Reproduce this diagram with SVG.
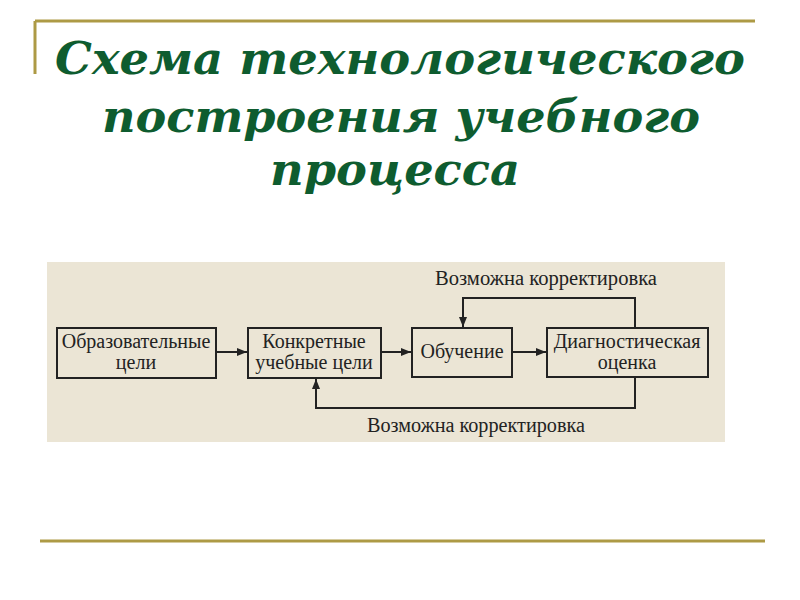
<svg xmlns="http://www.w3.org/2000/svg" width="800" height="600" viewBox="0 0 800 600">
<defs>
<marker id="ah" viewBox="0 0 10 8" refX="10" refY="4" markerWidth="10" markerHeight="8" markerUnits="userSpaceOnUse" orient="auto">
<path d="M0,0 L10,4 L0,8 Z" fill="#222"/>
</marker>
</defs>
<style>
.gold{stroke:#ad9a45;stroke-width:3;fill:none}
.title{font-family:"DejaVu Serif",serif;font-weight:bold;font-style:italic;font-size:45px;fill:#0e5c2f;text-anchor:middle}
.box{fill:none;stroke:#222;stroke-width:2}
.t{font-family:"Liberation Serif",serif;font-size:20px;fill:#222;text-anchor:middle}
.l{font-family:"Liberation Serif",serif;font-size:20px;fill:#222}
.c{fill:none;stroke:#222;stroke-width:2}
</style>
<rect width="800" height="600" fill="#ffffff"/>
<path class="gold" d="M35,21 H755 M35,21 V74"/>
<line class="gold" x1="40" y1="541" x2="765" y2="541"/>
<g id="title">
<text class="title" x="400" y="74" textLength="690" lengthAdjust="spacingAndGlyphs">Схема технологического</text>
<text class="title" x="401" y="132" textLength="598" lengthAdjust="spacingAndGlyphs">построения учебного</text>
<text class="title" x="395" y="185" textLength="250" lengthAdjust="spacingAndGlyphs">процесса</text>
</g>
<rect x="47" y="262" width="678" height="180" fill="#ebe5d5"/>
<g id="connectors">
<line class="c" x1="216" y1="352" x2="247" y2="352" marker-end="url(#ah)"/>
<line class="c" x1="381" y1="352" x2="411" y2="352" marker-end="url(#ah)"/>
<line class="c" x1="512" y1="352" x2="546" y2="352" marker-end="url(#ah)"/>
<polyline class="c" points="635,328 635,298 463,298 463,327" marker-end="url(#ah)"/>
<polyline class="c" points="635,377 635,408 316,408 316,379" marker-end="url(#ah)"/>
<text class="l" x="435" y="285" textLength="222" lengthAdjust="spacingAndGlyphs">Возможна корректировка</text>
<text class="l" x="367" y="432" textLength="218" lengthAdjust="spacingAndGlyphs">Возможна корректировка</text>
</g>
<g id="n1">
<rect class="box" x="57" y="328" width="159" height="50"/>
<text class="t" x="136" y="348">Образовательные</text>
<text class="t" x="136" y="369">цели</text>
</g>
<g id="n2">
<rect class="box" x="248" y="328" width="133" height="50"/>
<text class="t" x="314" y="348">Конкретные</text>
<text class="t" x="314" y="369">учебные цели</text>
</g>
<g id="n3">
<rect class="box" x="412" y="328" width="100" height="49"/>
<text class="t" x="462" y="358">Обучение</text>
</g>
<g id="n4">
<rect class="box" x="547" y="328" width="161" height="49"/>
<text class="t" x="627" y="348">Диагностическая</text>
<text class="t" x="627" y="369">оценка</text>
</g>
</svg>
